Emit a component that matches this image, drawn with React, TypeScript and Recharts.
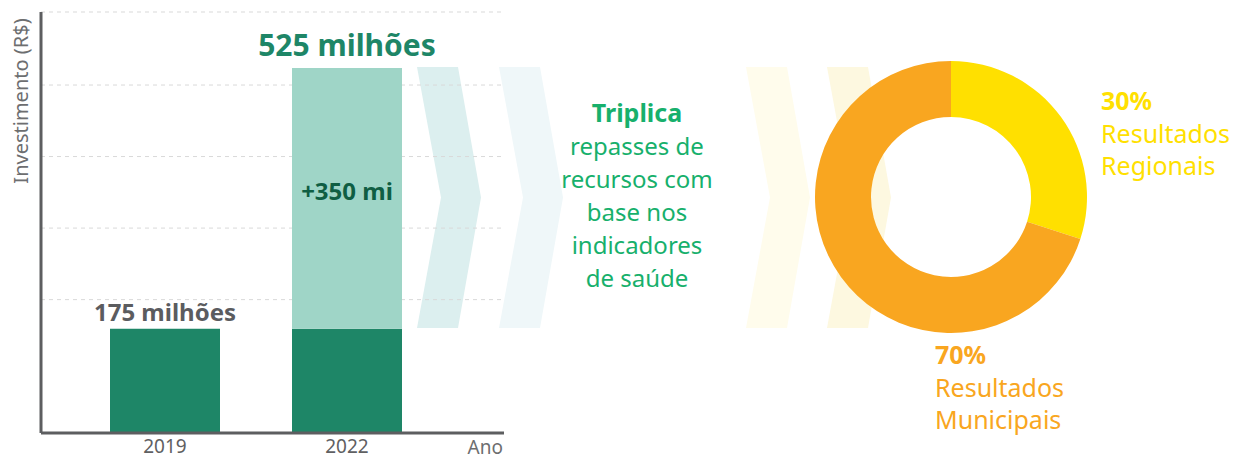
import { Bar, BarChart, CartesianGrid, Cell, LabelList, Pie, PieChart, XAxis, YAxis } from 'recharts'

const FONT = '"Noto Sans", sans-serif'

// bar chart
const years = ['2019', '2022']
const baseValues = [175, 175]
const extraValues = [0, 350]
const totalLabels = ['175 milhões', '525 milhões']
const extraLabels = ['', '+350 mi']
const gridTicks = [214, 310, 406, 502, 600]

// donut
const shareNames = ['Resultados Regionais', 'Resultados Municipais']
const shareValues = [30, 70]
const shareColors = ['#ffe000', '#f9a620']

const middleTitle = 'Triplica'
const middleLines = ['repasses de', 'recursos com', 'base nos', 'indicadores', 'de saúde']

const barData = years.map((ano, i) => ({
  ano,
  base: baseValues[i],
  extra: extraValues[i],
  totalLabel: totalLabels[i],
  extraLabel: extraLabels[i],
}))

const shareData = shareNames.map((name, i) => ({ name, value: shareValues[i] }))

const AXIS = '#5d5e60'
const DARK = '#1e8667'
const LIGHT = '#9fd5c7'
const MID_GREEN = '#17b06c'

function Chevron({ left, fill }: { left: number; fill: string }) {
  const top = 67
  const bottom = 328
  const mid = (top + bottom) / 2
  const pts = [
    [left, top],
    [left + 41, top],
    [left + 64, mid],
    [left + 41, bottom],
    [left, bottom],
    [left + 24, mid],
  ]
  return <polygon points={pts.map((p) => p.join(',')).join(' ')} fill={fill} />
}

// top label sits on the highest segment of each stack
function topLabel(onExtra: boolean) {
  return (props: any) => {
    const { x, y, width, value } = props
    const row = barData.find((r) => r.totalLabel === value)
    if (!row) return null
    if (onExtra !== row.extra > 0) return null
    const big = row.extra > 0
    return (
      <text
        x={x + width / 2}
        y={big ? y - 12 : y - 8}
        textAnchor="middle"
        fontFamily={FONT}
        fontWeight={700}
        fontSize={big ? 30 : 24}
        fill={big ? DARK : '#5b5c5f'}
      >
        {row.totalLabel}
      </text>
    )
  }
}

function InnerLabel(props: any) {
  const { x, y, width, height, value } = props
  if (!value) return null
  return (
    <text
      x={x + width / 2}
      y={y + height / 2 + 2}
      textAnchor="middle"
      fontFamily={FONT}
      fontWeight={700}
      fontSize={24}
      fill="#0f5e43"
    >
      {value}
    </text>
  )
}

function ShareLabel(props: any) {
  const { cx, cy, index, value, name } = props
  const [first, second] = String(name).split(' ')
  const x = index === 0 ? cx + 150 : cx - 16
  const y = index === 0 ? cy - 87 : cy + 167
  return (
    <text x={x} y={y} fill={shareColors[index]} fontFamily={FONT} fontSize={25}>
      <tspan x={x} fontWeight={700}>
        {value}%
      </tspan>
      <tspan x={x} dy={33}>
        {first}
      </tspan>
      <tspan x={x} dy={32}>
        {second}
      </tspan>
    </text>
  )
}

export default function App() {
  return (
    <div
      style={{
        position: 'absolute',
        left: 0,
        top: 0,
        width: 1234,
        height: 460,
        background: '#fff',
        overflow: 'hidden',
        fontFamily: FONT,
      }}
    >
      <svg width={1234} height={460} style={{ position: 'absolute', left: 0, top: 0 }}>
        <Chevron left={417} fill="#dcefef" />
        <Chevron left={499} fill="#eff7f9" />
        <Chevron left={746} fill="#fffcec" />
        <Chevron left={827} fill="#fdf8e0" />
        <text
          x={20}
          y={101}
          transform="rotate(-90 20 101)"
          textAnchor="middle"
          dominantBaseline="central"
          fontSize={20}
          fill="#6d6e70"
        >
          Investimento (R$)
        </text>
        <text x={503} y={454} textAnchor="end" fontSize={19} fill="#6d6e70">
          Ano
        </text>
        <text x={637} y={122} textAnchor="middle" fontSize={25} fontWeight={700} fill={MID_GREEN}>
          {middleTitle}
        </text>
        {middleLines.map((line, i) => (
          <text key={line} x={637} y={155 + i * 33} textAnchor="middle" fontSize={24} fill={MID_GREEN}>
            {line}
          </text>
        ))}
      </svg>

      <div style={{ position: 'absolute', left: 0, top: 0 }}>
        <BarChart width={520} height={460} data={barData} margin={{ top: 12, right: 16, left: 40, bottom: 0 }}>
          <CartesianGrid vertical={false} stroke="#d9d9d9" strokeDasharray="4 4" />
          <XAxis
            dataKey="ano"
            height={27}
            padding={{ left: 33, right: 66 }}
            tickLine={false}
            tickMargin={1}
            axisLine={{ stroke: AXIS, strokeWidth: 3 }}
            tick={{ fill: '#5f6062', fontSize: 19, fontFamily: FONT }}
          />
          <YAxis
            width={1}
            type="number"
            domain={[35, 600]}
            ticks={gridTicks}
            interval={0}
            allowDataOverflow
            tick={() => <g />}
            tickLine={false}
            axisLine={{ stroke: AXIS, strokeWidth: 3 }}
          />
          <Bar dataKey="base" stackId="a" barSize={110} fill={DARK} isAnimationActive={false}>
            <LabelList dataKey="totalLabel" content={topLabel(false)} />
          </Bar>
          <Bar dataKey="extra" stackId="a" barSize={110} fill={LIGHT} isAnimationActive={false}>
            <LabelList dataKey="extraLabel" content={InnerLabel} />
            <LabelList dataKey="totalLabel" content={topLabel(true)} />
          </Bar>
        </BarChart>
      </div>

      <div style={{ position: 'absolute', left: 801, top: 0 }}>
        <PieChart width={433} height={460} margin={{ top: 0, right: 0, bottom: 0, left: 0 }}>
          <Pie
            data={shareData}
            dataKey="value"
            nameKey="name"
            cx={150}
            cy={197}
            innerRadius={80}
            outerRadius={136}
            startAngle={90}
            endAngle={-270}
            stroke="none"
            labelLine={false}
            label={ShareLabel}
            isAnimationActive={false}
          >
            {shareData.map((d, i) => (
              <Cell key={d.name} fill={shareColors[i]} />
            ))}
          </Pie>
        </PieChart>
      </div>
    </div>
  )
}
